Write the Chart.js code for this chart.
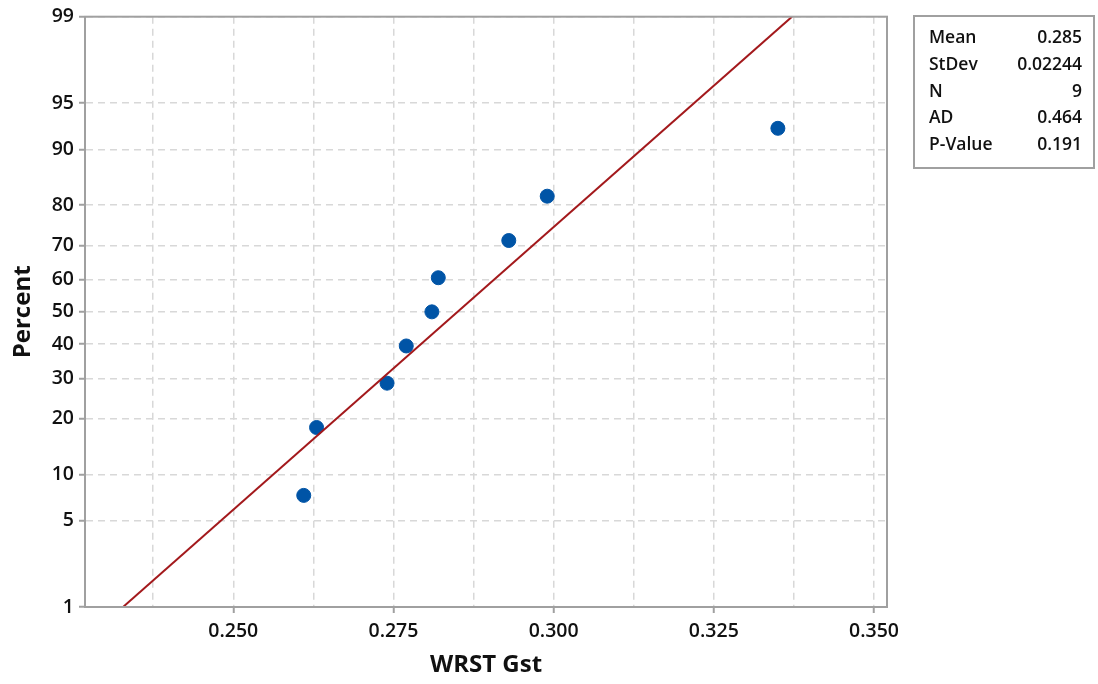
<!DOCTYPE html>
<html>
<head>
<meta charset="utf-8">
<script src="https://cdn.jsdelivr.net/npm/chart.js@4/dist/chart.umd.min.js"></script>
<style>
  body { margin: 0; background: #fff; font-family: "Open Sans", sans-serif; }
  #wrap { position: relative; width: 1098px; height: 684px; }
  #stats {
    position: absolute; left: 913px; top: 15px; width: 178px; height: 144px;
    border: 2px solid #a0a0a0; box-sizing: content-box;
    padding-top: 6px; font-size: 17.5px; font-weight: 600; color: #111;
  }
  #stats .row { display: flex; justify-content: space-between; height: 26.8px; line-height: 26.8px; padding: 0 11px 0 14px; }
</style>
</head>
<body>
<div id="wrap">
  <canvas id="myChart" width="1098" height="684"></canvas>
  <div id="stats"></div>
</div>
<script>
// data
const gstValues = [0.261, 0.263, 0.274, 0.277, 0.281, 0.282, 0.293, 0.299, 0.335];
const percentValues = [7.4, 18.1, 28.7, 39.4, 50, 60.6, 71.3, 81.9, 92.6];
const yTickPercents = [1, 5, 10, 20, 30, 40, 50, 60, 70, 80, 90, 95, 99];
const xGridValues = [0.2375, 0.250, 0.2625, 0.275, 0.2875, 0.300, 0.3125, 0.325, 0.3375, 0.350];
const xTickLabels = ['0.250', '0.275', '0.300', '0.325', '0.350'];
const statNames = ['Mean', 'StDev', 'N', 'AD', 'P-Value'];
const statValues = ['0.285', '0.02244', '9', '0.464', '0.191'];
const fitMean = 0.285;
const fitStDev = 0.02244;

// inverse normal cdf (Acklam)
function probit(p) {
  const a = [-39.69683028665376, 220.9460984245205, -275.9285104469687, 138.3577518672690, -30.66479806614716, 2.506628277459239];
  const b = [-54.47609879822406, 161.5858368580409, -155.6989798598866, 66.80131188771972, -13.28068155288572];
  const c = [-0.007784894002430293, -0.3223964580411365, -2.400758277161838, -2.549732539343734, 4.374664141464968, 2.938163982698783];
  const d = [0.007784695709041462, 0.3224671290700398, 2.445134137142996, 3.754408661907416];
  const pl = 0.02425;
  let q, r;
  if (p < pl) {
    q = Math.sqrt(-2 * Math.log(p));
    return (((((c[0]*q+c[1])*q+c[2])*q+c[3])*q+c[4])*q+c[5]) / ((((d[0]*q+d[1])*q+d[2])*q+d[3])*q+1);
  } else if (p <= 1 - pl) {
    q = p - 0.5; r = q*q;
    return (((((a[0]*r+a[1])*r+a[2])*r+a[3])*r+a[4])*r+a[5])*q / (((((b[0]*r+b[1])*r+b[2])*r+b[3])*r+b[4])*r+1);
  }
  q = Math.sqrt(-2 * Math.log(1 - p));
  return -(((((c[0]*q+c[1])*q+c[2])*q+c[3])*q+c[4])*q+c[5]) / ((((d[0]*q+d[1])*q+d[2])*q+d[3])*q+1);
}

const zMin = probit(0.01), zMax = probit(0.99);
const points = gstValues.map((g, i) => ({ x: g, y: probit(percentValues[i] / 100) }));
const fitLine = [
  { x: fitMean + zMin * fitStDev, y: zMin },
  { x: fitMean + zMax * fitStDev, y: zMax }
];

// stats box
document.getElementById('stats').innerHTML = statNames.map((n, i) =>
  '<div class="row"><span>' + n + '</span><span>' + statValues[i] + '</span></div>').join('');

const borderColor = '#a0a0a0';
const gridColor = '#d8d8d8';
const tickFont = { family: 'Open Sans', size: 19.5, weight: '600' };
const titleFont = { family: 'Open Sans', size: 24, weight: '700' };

const frame = {
  id: 'frame',
  afterDraw(chart) {
    const a = chart.chartArea, ctx = chart.ctx;
    ctx.save();
    ctx.strokeStyle = borderColor;
    ctx.lineWidth = 2;
    ctx.strokeRect(a.left, a.top, a.right - a.left, a.bottom - a.top);
    ctx.restore();
  }
};

const config = {
  type: 'scatter',
  data: {
    datasets: [
      {
        label: 'Fit',
        type: 'line',
        data: fitLine,
        borderColor: '#a3191c',
        borderWidth: 2,
        pointRadius: 0,
        fill: false
      },
      {
        label: 'WRST Gst',
        data: points,
        backgroundColor: '#0054a6',
        borderColor: '#0054a6',
        pointRadius: 7,
        pointHoverRadius: 7
      }
    ]
  },
  plugins: [frame],
  options: {
    responsive: false,
    animation: false,
    layout: { padding: { left: 0, top: 16, right: 211, bottom: 0 } },
    plugins: { legend: { display: false }, tooltip: { enabled: false } },
    scales: {
      x: {
        type: 'linear',
        min: 0.22686,
        max: 0.35203,
        afterBuildTicks: s => { s.ticks = xGridValues.map(v => ({ value: v })); },
        afterFit: s => { s.height = 77; },
        ticks: {
          autoSkip: false,
          maxRotation: 0,
          padding: 7,
          color: '#111',
          font: tickFont,
          callback: v => {
            const t = v.toFixed(3);
            return xTickLabels.includes(t) ? t : '';
          }
        },
        grid: {
          color: gridColor,
          lineWidth: 1.5,
          tickLength: 6,
          tickWidth: 2,
          tickColor: ctx => (ctx.tick && xTickLabels.includes(ctx.tick.value.toFixed(3))) ? borderColor : 'rgba(0,0,0,0)'
        },
        border: { color: borderColor, width: 2, dash: [7, 5] },
        title: {
          display: true,
          text: 'WRST Gst',
          color: '#111',
          font: titleFont,
          padding: { top: 4, bottom: 4 }
        }
      },
      y: {
        type: 'linear',
        min: zMin,
        max: zMax,
        afterBuildTicks: s => { s.ticks = yTickPercents.map(p => ({ value: probit(p / 100) })); },
        afterFit: s => { s.width = 85; },
        ticks: {
          autoSkip: false,
          padding: 5,
          color: '#111',
          font: tickFont,
          callback: (v, i) => String(yTickPercents[i])
        },
        grid: {
          color: gridColor,
          lineWidth: 1.5,
          tickLength: 6,
          tickWidth: 2,
          tickColor: borderColor
        },
        border: { color: borderColor, width: 2, dash: [7, 5] },
        title: {
          display: true,
          text: 'Percent',
          color: '#111',
          font: titleFont,
          padding: { top: 9, bottom: 0 }
        }
      }
    }
  }
};

const myChart = new Chart(document.getElementById('myChart'), config);
</script>
</body>
</html>
